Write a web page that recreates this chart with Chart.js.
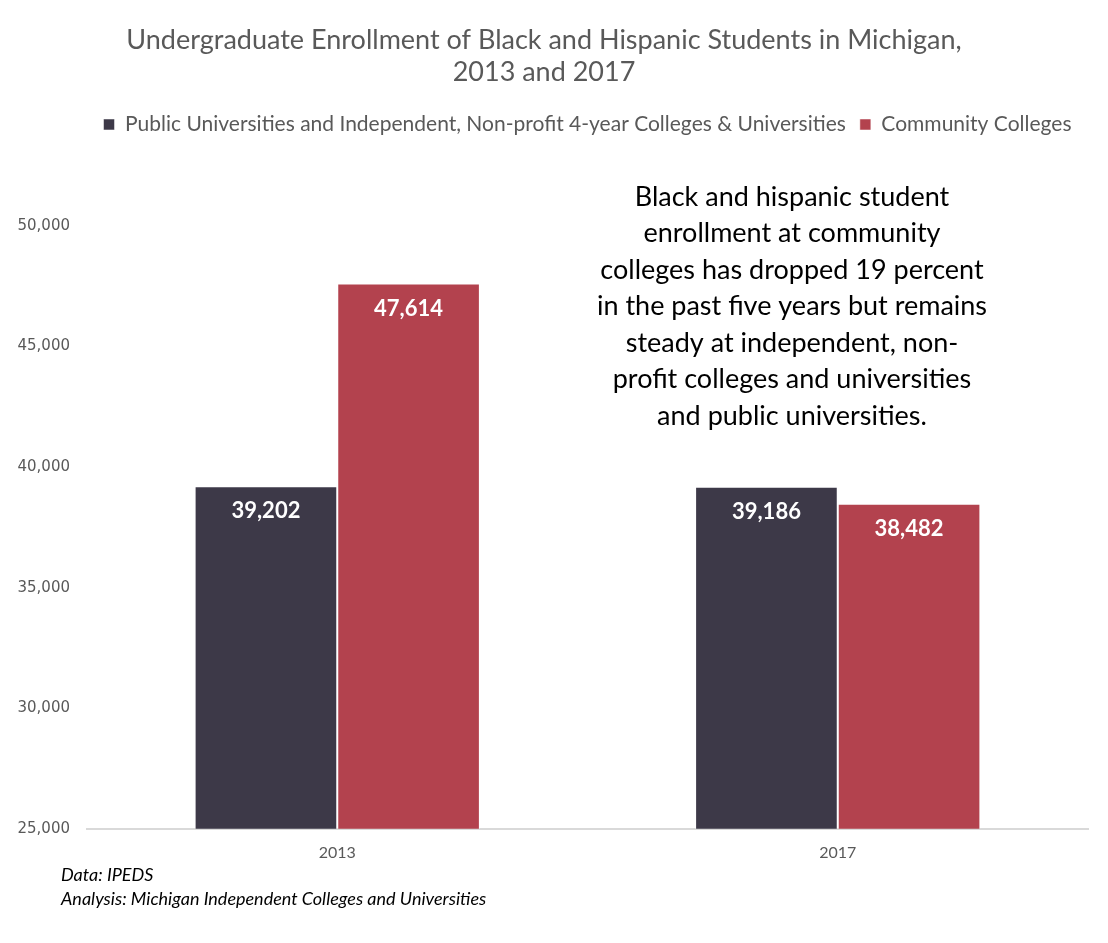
<!DOCTYPE html>
<html>
<head>
<meta charset="utf-8">
<script src="https://cdn.jsdelivr.net/npm/chart.js@4.4.1/dist/chart.umd.min.js"></script>
<style>
  html, body { margin: 0; padding: 0; background: #fff; }
  #wrap { width: 1108px; height: 943px; }
</style>
</head>
<body>
<div id="wrap"><canvas id="chart"></canvas></div>
<script>
// Enrollment data
const years = ['2013', '2017'];
const publicIndependent = [39202, 39186];
const communityColleges = [47614, 38482];
const seriesNames = [
  'Public Universities and Independent, Non-profit 4-year Colleges & Universities',
  'Community Colleges'
];
const titleLines = ['Undergraduate Enrollment of Black and Hispanic Students in Michigan,', '2013 and 2017'];
const noteLines = [
  'Black and hispanic student',
  'enrollment at community',
  'colleges has dropped 19 percent',
  'in the past five years but remains',
  'steady at independent, non-',
  'profit colleges and universities',
  'and public universities.'
];
const sourceLines = ['Data: IPEDS', 'Analysis: Michigan Independent Colleges and Universities'];

const GRAY = '#595959';
const fmt = v => v.toLocaleString('en-US');

// white value labels just inside the top of each bar
const barLabels = {
  id: 'barLabels',
  afterDatasetsDraw(chart) {
    const ctx = chart.ctx;
    ctx.save();
    ctx.fillStyle = '#fff';
    ctx.font = 'bold 22px Lato';
    ctx.textAlign = 'center';
    ctx.textBaseline = 'middle';
    chart.data.datasets.forEach((ds, i) => {
      chart.getDatasetMeta(i).data.forEach((bar, j) => {
        ctx.fillText(fmt(ds.data[j]), bar.x, bar.y + 25);
      });
    });
    ctx.restore();
  }
};

// callout text and source notes
const notes = {
  id: 'notes',
  afterDraw(chart) {
    const ctx = chart.ctx;
    ctx.save();
    ctx.fillStyle = '#000';
    ctx.font = '27px Lato';
    ctx.textAlign = 'center';
    ctx.textBaseline = 'middle';
    noteLines.forEach((t, i) => ctx.fillText(t, 792, 197 + i * 36.5));
    ctx.font = 'italic 18px Lato';
    ctx.textAlign = 'left';
    sourceLines.forEach((t, i) => ctx.fillText(t, 61, 875 + i * 24));
    ctx.restore();
  }
};

// leave room between the legend and the plot, like the original
const legendGap = {
  id: 'legendGap',
  beforeLayout(chart) {
    const lg = chart.legend;
    if (lg && !lg._gapSet) {
      const fit = lg.fit;
      lg.fit = function() { fit.call(this); this.height += 81; };
      lg._gapSet = true;
    }
  }
};

new Chart(document.getElementById('chart'), {
  type: 'bar',
  data: {
    labels: years,
    datasets: [
      { label: seriesNames[0], data: publicIndependent, backgroundColor: '#3D3948',
        borderColor: 'rgba(255,255,255,0.5)', borderWidth: 1 },
      { label: seriesNames[1], data: communityColleges, backgroundColor: '#B3424E',
        borderColor: 'rgba(255,255,255,0.5)', borderWidth: 1 }
    ]
  },
  options: {
    responsive: true,
    maintainAspectRatio: false,
    animation: false,
    layout: { padding: { left: 0, right: 20, top: 0, bottom: 75 } },
    datasets: { bar: { categoryPercentage: 0.57, barPercentage: 1 } },
    plugins: {
      title: {
        display: true,
        text: titleLines,
        color: GRAY,
        font: { family: 'Lato', size: 27, weight: 'normal', lineHeight: 1.185 },
        padding: { top: 24, bottom: 12 }
      },
      legend: {
        display: true,
        fullSize: false,
        labels: {
          color: GRAY,
          font: { family: 'Lato', size: 21 },
          boxWidth: 11,
          boxHeight: 11,
          padding: 14
        }
      },
      tooltip: { enabled: false }
    },
    scales: {
      x: {
        grid: { display: false },
        border: { color: '#D9D9D9', width: 2 },
        ticks: { color: GRAY, font: { family: 'Lato', size: 16 }, padding: 6 }
      },
      y: {
        min: 25000,
        max: 50000,
        grid: { display: false, drawTicks: false },
        border: { display: false },
        afterFit(scale) { scale.width = 87; },
        ticks: {
          stepSize: 5000,
          color: GRAY,
          padding: 17,
          font: { family: 'DejaVu Sans', size: 15 },
          callback: v => fmt(v)
        }
      }
    }
  },
  plugins: [barLabels, notes, legendGap]
});
</script>
</body>
</html>
